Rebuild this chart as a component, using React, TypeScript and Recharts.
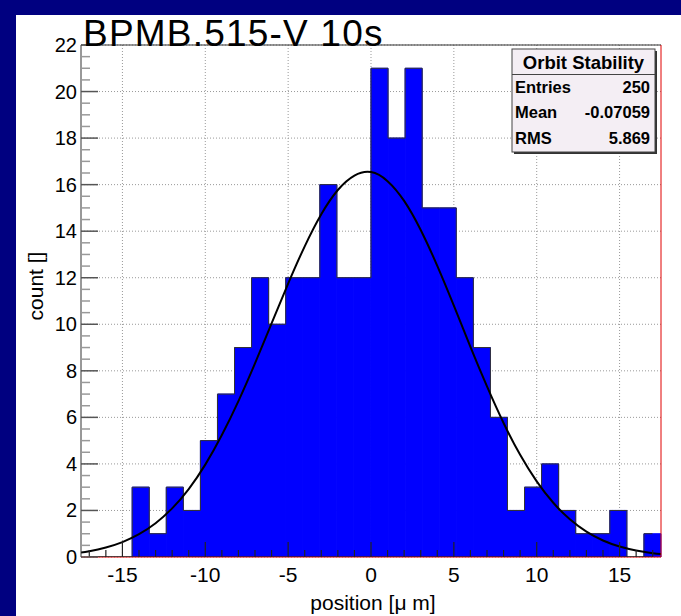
import React from "react";
import {
  Bar,
  CartesianGrid,
  ComposedChart,
  Line,
  ReferenceLine,
  XAxis,
  YAxis,
} from "recharts";

// histogram: 34 bins between -17.5 and 17.5
const binCenters = [
  -16.99, -15.96, -14.93, -13.9, -12.87, -11.84, -10.81, -9.78, -8.75, -7.72, -6.69, -5.66,
  -4.63, -3.6, -2.57, -1.54, -0.51, 0.51, 1.54, 2.57, 3.6, 4.63, 5.66, 6.69, 7.72, 8.75, 9.78,
  10.81, 11.84, 12.87, 13.9, 14.93, 15.96, 16.99,
];
const binCounts = [
  0, 0, 0, 3, 1, 3, 2, 5, 7, 9, 12, 10, 12, 12, 16, 12, 12, 21, 18, 21, 15, 15, 12, 9, 6, 2, 3,
  4, 2, 1, 1, 2, 0, 1,
];

// gaussian fit
const fitX = [
  -17.5, -17, -16, -15, -14, -13, -12, -11, -10, -9, -8, -7, -6, -5, -4, -3, -2, -1, 0, 1, 2, 3,
  4, 5, 6, 7, 8, 9, 10, 11, 12, 13, 14, 15, 16, 17, 17.5,
];
const fitY = [
  0.19, 0.25, 0.41, 0.64, 0.98, 1.45, 2.09, 2.92, 3.97, 5.24, 6.7, 8.32, 10.04, 11.75, 13.35,
  14.73, 15.77, 16.39, 16.54, 16.15, 15.3, 14.05, 12.51, 10.8, 9.03, 7.33, 5.76, 4.39, 3.25, 2.33,
  1.62, 1.09, 0.71, 0.45, 0.28, 0.16, 0.13,
];

const xMajorTicks = [-15, -10, -5, 0, 5, 10, 15];
const xAllTicks = [
  -17, -16, -15, -14, -13, -12, -11, -10, -9, -8, -7, -6, -5, -4, -3, -2, -1, 0, 1, 2, 3, 4, 5,
  6, 7, 8, 9, 10, 11, 12, 13, 14, 15, 16, 17,
];
const yMajorTicks = [0, 2, 4, 6, 8, 10, 12, 14, 16, 18, 20, 22];
const yAllTicks = [
  0, 0.5, 1, 1.5, 2, 2.5, 3, 3.5, 4, 4.5, 5, 5.5, 6, 6.5, 7, 7.5, 8, 8.5, 9, 9.5, 10, 10.5, 11,
  11.5, 12, 12.5, 13, 13.5, 14, 14.5, 15, 15.5, 16, 16.5, 17, 17.5, 18, 18.5, 19, 19.5, 20, 20.5,
  21, 21.5, 22,
];

const statsTitle = "Orbit Stability";
const statsLabels = ["Entries", "Mean", "RMS"];
const statsValues = ["250", "-0.07059", "5.869"];

const FONT = "'Liberation Sans', Arial, Helvetica, sans-serif";
const W = 681;
const H = 616;

const bins = binCenters.map((center, i) => ({ center, count: binCounts[i] }));
const fit = fitX.map((x, i) => ({ x, y: fitY[i] }));
// tick marks sit on the bars, so they are drawn as a series on top of them
const tickMarks = xAllTicks.map((x) => ({ x, base: 0, major: xMajorTicks.includes(x) }));

function XTick(props: any) {
  const { x, y, payload } = props;
  if (!xMajorTicks.includes(payload.value)) return <g />;
  return (
    <text x={x} y={y + 25} textAnchor="middle" fontSize={21} fontFamily={FONT} fill="#000">
      {payload.value}
    </text>
  );
}

function renderTickMark(props: any) {
  const { cx, cy, payload, index } = props;
  if (cx == null || cy == null) return <g key={`t${index}`} />;
  return (
    <line
      key={`t${index}`}
      x1={cx}
      x2={cx}
      y1={cy}
      y2={cy - (payload.major ? 15 : 7)}
      stroke="#222"
      strokeWidth={1.2}
    />
  );
}

function YTick(props: any) {
  const { x, y, payload } = props;
  const major = yMajorTicks.includes(payload.value);
  return (
    <g>
      <line
        x1={x}
        x2={x + (major ? 17 : 9)}
        y1={y}
        y2={y}
        stroke={major ? "#555" : "#999"}
        strokeWidth={1.5}
      />
      {major && (
        <text
          x={x - 4}
          y={y}
          textAnchor="end"
          dominantBaseline="central"
          fontSize={20}
          fontFamily={FONT}
          fill="#000"
        >
          {payload.value}
        </text>
      )}
    </g>
  );
}

export default function App() {
  return (
    <div style={{ position: "fixed", left: 0, top: 0, width: W, height: H, background: "#000080" }}>
      <div style={{ position: "absolute", left: 16, top: 15, right: 0, bottom: 0, background: "#fff" }} />
      <div style={{ position: "absolute", left: 0, top: 0 }}>
        <ComposedChart
          width={W}
          height={H}
          data={bins}
          margin={{ top: 45, right: 20, bottom: 29, left: 31 }}
          barCategoryGap={0}
          barGap={0}
        >
          <CartesianGrid
            xAxisId="pos"
            yAxisId="count"
            verticalValues={xMajorTicks}
            horizontalValues={yMajorTicks}
            stroke="#999"
            strokeDasharray="1 2"
          />
          <ReferenceLine xAxisId="pos" yAxisId="count" y={0} stroke="#e00000" />
          <Bar
            xAxisId="bin"
            yAxisId="count"
            dataKey="count"
            fill="#0000ff"
            stroke="#0000ff"
            strokeWidth={1}
            isAnimationActive={false}
          />
          <Line
            xAxisId="bin"
            yAxisId="count"
            dataKey="count"
            type="step"
            stroke="#333"
            strokeWidth={1}
            dot={false}
            activeDot={false}
            isAnimationActive={false}
          />
          <Line
            data={tickMarks}
            xAxisId="pos"
            yAxisId="count"
            dataKey="base"
            stroke="#222"
            strokeWidth={1}
            dot={renderTickMark}
            activeDot={false}
            isAnimationActive={false}
          />
          <Line
            data={fit}
            xAxisId="pos"
            yAxisId="count"
            dataKey="y"
            type="natural"
            stroke="#000"
            strokeWidth={2}
            dot={false}
            activeDot={false}
            isAnimationActive={false}
          />
          <XAxis
            xAxisId="pos"
            type="number"
            dataKey="x"
            domain={[-17.5, 17.5]}
            allowDataOverflow
            ticks={xAllTicks}
            interval={0}
            height={30}
            tickSize={0}
            tickMargin={0}
            tick={<XTick />}
            axisLine={false}
          />
          <YAxis
            yAxisId="count"
            type="number"
            domain={[0, 22]}
            allowDataOverflow
            ticks={yAllTicks}
            interval={0}
            width={50}
            tickSize={0}
            tickMargin={0}
            tick={<YTick />}
            axisLine={{ stroke: "#333" }}
          />
          <XAxis xAxisId="bin" type="category" dataKey="center" hide height={0} />
          <ReferenceLine xAxisId="pos" yAxisId="count" y={22} stroke="#333" />
          <ReferenceLine xAxisId="pos" yAxisId="count" x={17.5} stroke="#e00000" />
        </ComposedChart>
      </div>
      <svg
        width={W}
        height={H}
        style={{ position: "absolute", left: 0, top: 0, pointerEvents: "none" }}
        fontFamily={FONT}
      >
        <text x={83} y={46} fontSize={37} letterSpacing={1.2} fill="#000">
          BPMB.515-V 10s
        </text>
        <text
          x={35}
          y={286}
          fontSize={21}
          textAnchor="middle"
          dominantBaseline="central"
          transform="rotate(-90 35 286)"
          fill="#000"
        >
          count []
        </text>
        <text x={373} y={610} fontSize={21} textAnchor="middle" fill="#000">
          position [μ m]
        </text>
        <rect x={514} y={51} width={143} height={103} fill="#333" />
        <rect x={512} y={49} width={143} height={103} fill="#f4eef4" stroke="#444" strokeWidth={1} />
        <line x1={512} x2={655} y1={74.5} y2={74.5} stroke="#444" />
        <text x={583.5} y={69} fontSize={18.5} fontWeight="bold" textAnchor="middle" fill="#000">
          {statsTitle}
        </text>
        {statsLabels.map((label, i) => (
          <g key={label}>
            <text x={515} y={92.5 + i * 25.8} fontSize={16.5} fontWeight="bold" fill="#000">
              {label}
            </text>
            <text
              x={650}
              y={92.5 + i * 25.8}
              fontSize={16.5}
              fontWeight="bold"
              textAnchor="end"
              fill="#000"
            >
              {statsValues[i]}
            </text>
          </g>
        ))}
      </svg>
    </div>
  );
}
